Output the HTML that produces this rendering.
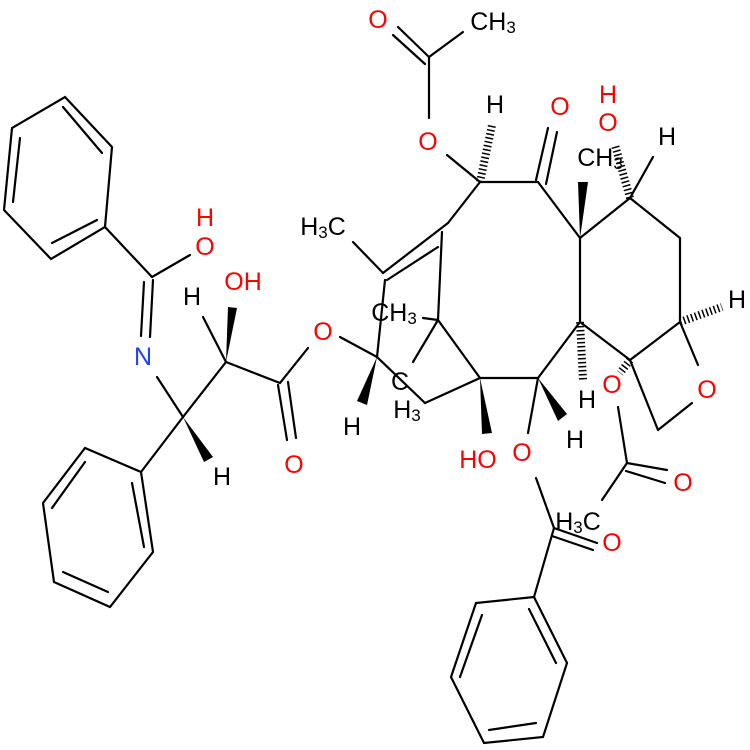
<!DOCTYPE html>
<html><head><meta charset="utf-8"><style>
html,body{margin:0;padding:0;background:#fff;width:750px;height:750px;overflow:hidden}
svg text{font-family:"Liberation Sans",sans-serif;font-size:25px;text-anchor:middle;dominant-baseline:central}
tspan.s{font-size:17px;baseline-shift:-5px}
</style></head><body>
<svg width="750" height="750" viewBox="0 0 750 750" xmlns="http://www.w3.org/2000/svg">
<g stroke="#000" stroke-width="2.2" fill="none" stroke-linecap="round">
<polygon points="65,97 112,147 105,227 51,259 4,210 12,128"/>
<line x1="63" y1="107" x2="102" y2="153"/><line x1="20" y1="138" x2="13" y2="202"/><line x1="52" y1="243" x2="97" y2="220"/>
<line x1="105" y1="227" x2="152" y2="277"/><line x1="152" y1="277" x2="190" y2="255"/>
<line x1="153" y1="280" x2="150" y2="337"/><line x1="144" y1="282" x2="141" y2="336"/>
<line x1="157" y1="377" x2="183" y2="417"/><line x1="183" y1="417" x2="226" y2="362"/>
<line x1="226" y1="362" x2="203" y2="317"/><line x1="226" y1="362" x2="280" y2="383"/>
<line x1="280" y1="383" x2="308" y2="348"/>
<line x1="278" y1="385" x2="287" y2="440"/><line x1="288" y1="382" x2="296" y2="438"/>
<line x1="183" y1="417" x2="141" y2="472"/>
<polygon points="141,472 85,448 43,503 54,582 110,607 153,552"/>
<line x1="85" y1="462" x2="52" y2="508"/><line x1="63" y1="572" x2="108" y2="592"/><line x1="132" y1="483" x2="144" y2="547"/>
<line x1="340" y1="337" x2="377" y2="357"/>
<line x1="353" y1="242" x2="383" y2="273"/>
<line x1="448" y1="223" x2="383" y2="273"/><line x1="438" y1="247" x2="387" y2="280"/>
<line x1="385" y1="280" x2="377" y2="357"/>
<line x1="480" y1="182" x2="448" y2="223"/>
<line x1="442" y1="232" x2="438" y2="320"/>
<line x1="377" y1="357" x2="425" y2="403"/><line x1="425" y1="403" x2="480" y2="378"/>
<line x1="438" y1="320" x2="480" y2="378"/><line x1="480" y1="378" x2="538" y2="378"/>
<line x1="438" y1="320" x2="423" y2="318"/><line x1="438" y1="320" x2="413" y2="362"/>
<line x1="538" y1="378" x2="528" y2="433"/>
<line x1="538" y1="378" x2="580" y2="322"/><line x1="580" y1="322" x2="580" y2="238"/>
<line x1="580" y1="238" x2="538" y2="182"/><line x1="538" y1="182" x2="480" y2="182"/>
<line x1="536" y1="180" x2="548" y2="128"/><line x1="546" y1="184" x2="557" y2="132"/>
<line x1="480" y1="182" x2="447" y2="155"/><line x1="429" y1="118" x2="429" y2="57"/>
<line x1="429" y1="57" x2="398" y2="27"/><line x1="425" y1="64" x2="393" y2="35"/>
<line x1="429" y1="57" x2="463" y2="32"/>
<line x1="580" y1="238" x2="630" y2="198"/><line x1="630" y1="198" x2="653" y2="157"/>
<line x1="630" y1="198" x2="680" y2="238"/><line x1="680" y1="238" x2="680" y2="322"/>
<line x1="680" y1="322" x2="630" y2="360"/><line x1="630" y1="360" x2="580" y2="322"/>
<line x1="680" y1="322" x2="698" y2="365"/><line x1="692" y1="403" x2="658" y2="430"/>
<line x1="658" y1="430" x2="630" y2="360"/>
<line x1="618" y1="407" x2="627" y2="463"/>
<line x1="627" y1="463" x2="667" y2="470"/><line x1="626" y1="471" x2="665" y2="483"/>
<line x1="627" y1="463" x2="602" y2="500"/>
<line x1="536" y1="478" x2="554" y2="528"/>
<line x1="554" y1="528" x2="597" y2="543"/><line x1="552" y1="536" x2="593" y2="550"/>
<line x1="554" y1="528" x2="534" y2="597"/>
<polygon points="534,597 476,603 451,677 484,743 543,737 567,663"/>
<line x1="482" y1="615" x2="460" y2="677"/><line x1="489" y1="730" x2="536" y2="723"/><line x1="529" y1="609" x2="556" y2="663"/>
</g>
<g fill="#000">
<polygon points="226,362 228,307 237,308"/>
<polygon points="183,417 204,462 213,457"/>
<polygon points="377,357 357,401 367,405"/>
<polygon points="480,378 482,434 492,433"/>
<polygon points="538,378 558,421 567,414"/>
<polygon points="580,238 578,182 588,182"/>
</g>
<g stroke="#000" stroke-width="8" stroke-dasharray="1.5 2.5" fill="none">
<line x1="480" y1="182" x2="492" y2="125"/>
<line x1="580" y1="322" x2="583" y2="380"/>
<line x1="630" y1="198" x2="615" y2="145"/>
<line x1="680" y1="322" x2="722" y2="307"/>
<line x1="630" y1="360" x2="620" y2="373"/>
</g>
<g fill="#f00">
<text x="205" y="247">O</text><text x="205" y="218">H</text>
<text x="243" y="282">OH</text>
<text x="323" y="332">O</text><text x="294" y="465">O</text>
<text x="428" y="142">O</text><text x="378" y="20">O</text>
<text x="560" y="107">O</text>
<text x="608" y="123">O</text><text x="608" y="95">H</text>
<text x="478" y="460">HO</text><text x="522" y="453">O</text>
<text x="612" y="385">O</text><text x="707" y="390">O</text>
<text x="683" y="483">O</text><text x="612" y="543">O</text>
</g>
<text x="143" y="357" fill="#2040ff">N</text>
<g fill="#000">
<text x="192" y="297">H</text><text x="222" y="477">H</text>
<text x="352" y="427">H</text>
<text x="323" y="227">H<tspan class="s">3</tspan>C</text>
<text x="394" y="313">CH<tspan class="s">3</tspan></text>
<text x="400" y="382">C</text><text x="407" y="410">H<tspan class="s">3</tspan></text>
<text x="495" y="105">H</text>
<text x="493" y="22">CH<tspan class="s">3</tspan></text>
<text x="600" y="158">CH<tspan class="s">3</tspan></text>
<text x="667" y="137">H</text><text x="737" y="300">H</text>
<text x="587" y="400">H</text><text x="575" y="440">H</text>
<text x="578" y="522">H<tspan class="s">3</tspan>C</text>
</g>
</svg>
</body></html>
